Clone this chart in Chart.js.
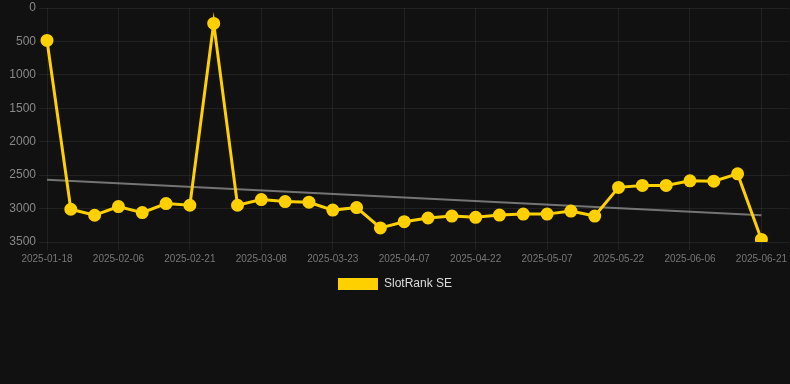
<!DOCTYPE html>
<html>
<head>
<meta charset="utf-8">
<script src="https://cdn.jsdelivr.net/npm/chart.js@4/dist/chart.umd.min.js"></script>
<style>
    html, body { margin: 0; padding: 0; background: #111111; }
    body { width: 790px; height: 384px; overflow: hidden; }
    #wrap { position: relative; width: 790px; height: 300px; }
</style>
</head>
<body>
<div id="wrap"><canvas id="rankChart"></canvas></div>
<script>
// Veriler
const dates = [
    '2025-01-18', '2025-01-24', '2025-01-31', '2025-02-06', '2025-02-11', '2025-02-16',
    '2025-02-21', '2025-02-26', '2025-03-03', '2025-03-08', '2025-03-13', '2025-03-18',
    '2025-03-23', '2025-03-28', '2025-04-02', '2025-04-07', '2025-04-12', '2025-04-17',
    '2025-04-22', '2025-04-27', '2025-05-02', '2025-05-07', '2025-05-12', '2025-05-17',
    '2025-05-22', '2025-05-27', '2025-06-01', '2025-06-06', '2025-06-11', '2025-06-16',
    '2025-06-21'
];
const rankValues = [
    485, 3010, 3100, 2970, 3060, 2925, 2950, 230, 2950, 2865, 2895, 2905,
    3023, 2985, 3290, 3196, 3141, 3112, 3131, 3097, 3083, 3083, 3038, 3112,
    2683, 2654, 2654, 2585, 2590, 2481, 3461
];
// Trend çizgisi: sadece uç noktalar
const trendValues = dates.map(() => null);
trendValues[0] = 2570;
trendValues[dates.length - 1] = 3100;
const yTicks = [0, 500, 1000, 1500, 2000, 2500, 3000, 3500];

const gold = '#ffd000';
const gridColor = 'rgba(255, 255, 255, 0.07)';
const fontFamily = '"Liberation Sans", Arial, sans-serif';

const ctx = document.getElementById('rankChart').getContext('2d');
new Chart(ctx, {
    type: 'line',
    data: {
        labels: dates,
        datasets: [
            {
                label: 'SlotRank SE',
                data: rankValues,
                borderColor: gold,
                backgroundColor: gold,
                borderWidth: 3,
                pointRadius: 5,
                pointBackgroundColor: gold,
                pointBorderColor: gold,
                tension: 0
            },
            {
                label: 'trend',
                data: trendValues,
                spanGaps: true,
                borderColor: 'rgba(150, 150, 150, 0.75)',
                borderWidth: 2,
                pointRadius: 0
            }
        ]
    },
    options: {
        responsive: true,
        maintainAspectRatio: false,
        animation: false,
        layout: { padding: 0 },
        scales: {
            x: {
                grid: { color: gridColor },
                border: { display: false },
                ticks: {
                    color: '#777',
                    font: { family: fontFamily, size: 10 },
                    autoSkip: false,
                    maxRotation: 0,
                    callback: function (val, i) { return i % 3 === 0 ? this.getLabelForValue(val) : null; }
                }
            },
            y: {
                reverse: true,
                min: 0,
                max: 3500,
                afterBuildTicks: (axis) => { axis.ticks = yTicks.map(v => ({ value: v })); },
                afterFit: (axis) => { axis.width = 47; },
                grid: { color: gridColor },
                border: { display: false },
                ticks: {
                    color: '#888',
                    font: { family: fontFamily, size: 12, lineHeight: 0.6 },
                    callback: (v) => String(v)
                }
            },
            y1: {
                position: 'right',
                reverse: true,
                min: 0,
                max: 3500,
                afterBuildTicks: (axis) => { axis.ticks = yTicks.map(v => ({ value: v })); },
                grid: { color: gridColor, drawOnChartArea: false, tickLength: 28 },
                border: { display: false },
                ticks: { display: false }
            }
        },
        plugins: {
            legend: {
                position: 'bottom',
                labels: {
                    color: '#ddd',
                    font: { family: fontFamily, size: 12 },
                    boxWidth: 40,
                    boxHeight: 12,
                    generateLabels: (chart) => Chart.defaults.plugins.legend.labels.generateLabels(chart)
                        .filter(item => item.datasetIndex === 0)
                        .map(item => ({ ...item, lineWidth: 0 }))
                }
            },
            tooltip: { enabled: false }
        }
    }
});
</script>
</body>
</html>
